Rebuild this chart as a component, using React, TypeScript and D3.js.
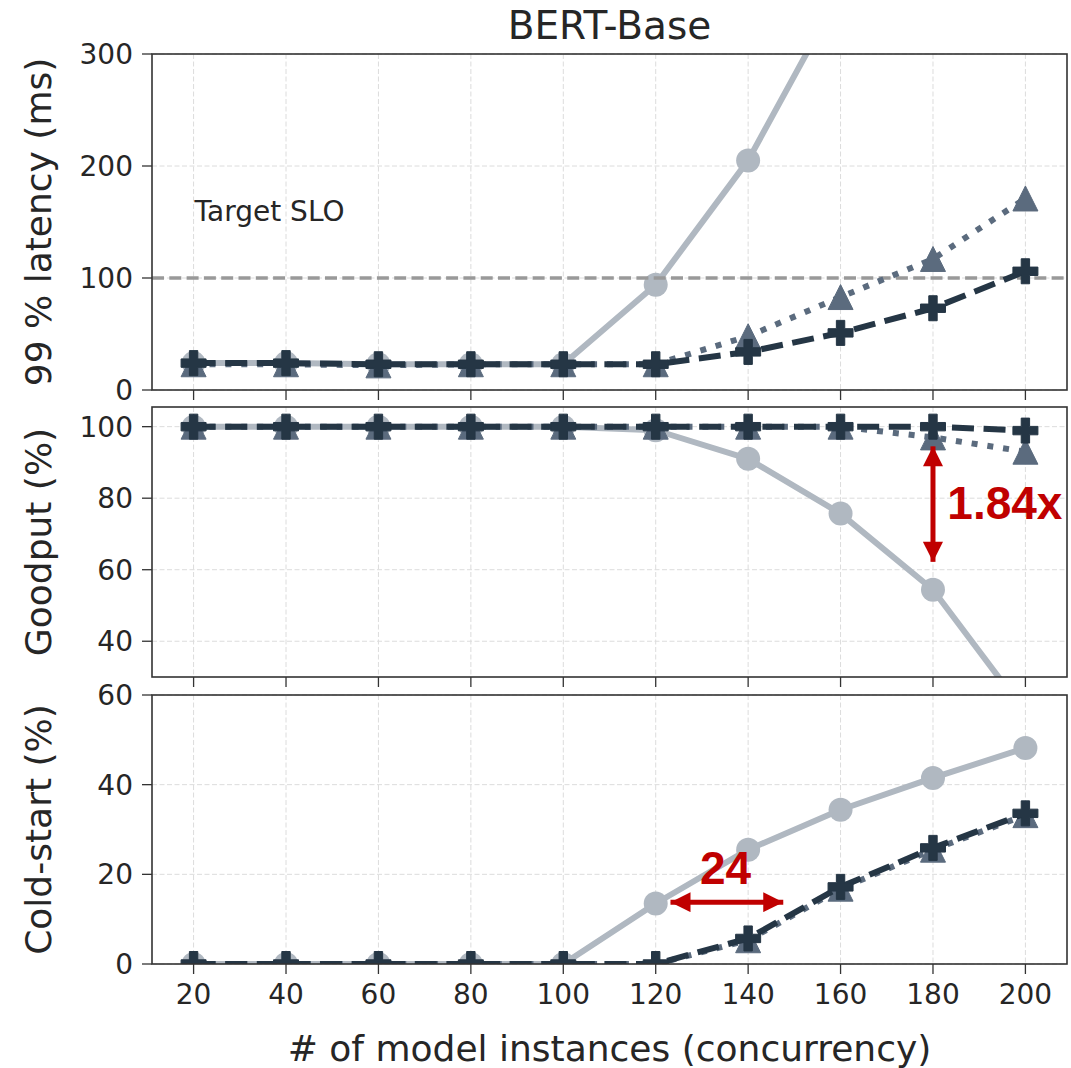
import * as d3 from "d3";

// x positions (number of model instances)
const instances = [20, 40, 60, 80, 100, 120, 140, 160, 180, 200];
const xTicks = [20, 40, 60, 80, 100, 120, 140, 160, 180, 200];

// 99% latency (ms)
const latencyCircle = [24, 24, 23, 23, 23, 94, 205, 356, 520, 700];
const latencyTriangle = [23, 23, 22, 23, 23, 23, 48, 83, 117, 171];
const latencyPlus = [24, 24, 23, 23, 23, 23, 34, 51, 73, 106];
const latencyTicks = [0, 100, 200, 300];
const sloTarget = 100;

// goodput (%)
const goodputCircle = [100, 100, 100, 100, 100, 99, 91, 75.7, 54.4, 20];
const goodputTriangle = [100, 100, 100, 100, 100, 100, 100, 100, 97, 93];
const goodputPlus = [100, 100, 100, 100, 100, 100, 100, 100, 100, 98.9];
const goodputTicks = [40, 60, 80, 100];

// cold-start (%)
const coldCircle = [0, 0, 0, 0, 0, 13.5, 25.5, 34.4, 41.5, 48.2];
const coldTriangle = [0, 0, 0, 0, 0, 0, 5.3, 16.8, 25.5, 33.2];
const coldPlus = [0, 0, 0, 0, 0, 0, 5.7, 17.2, 25.9, 33.6];
const coldTicks = [0, 20, 40, 60];

const FONT = "DejaVu Sans, sans-serif";
const RED = "#c00000";
const INK = "#262626";

const W = 1071;
const H = 1068;
const left = 152;
const right = 1067;

const x = d3.scaleLinear().domain([11, 209]).range([left, right]);

const panels = [
  {
    id: "lat",
    label: "99 % latency (ms)",
    y: d3.scaleLinear().domain([0, 300]).range([390, 54]),
    ticks: latencyTicks,
    data: [latencyCircle, latencyTriangle, latencyPlus],
  },
  {
    id: "good",
    label: "Goodput (%)",
    y: d3.scaleLinear().domain([30, 105.5]).range([677, 407]),
    ticks: goodputTicks,
    data: [goodputCircle, goodputTriangle, goodputPlus],
  },
  {
    id: "cold",
    label: "Cold-start (%)",
    y: d3.scaleLinear().domain([0, 60]).range([964, 695]),
    ticks: coldTicks,
    data: [coldCircle, coldTriangle, coldPlus],
  },
];

const styles = [
  { color: "#b0b8c1", dash: null, marker: "circle" },
  { color: "#5b6b7e", dash: "6,9.9", marker: "triangle" },
  { color: "#253645", dash: "22,9.6", marker: "plus" },
];

function markerPath(kind) {
  if (kind === "triangle") {
    const h = 12.5;
    return `M0,${-h}L${h},${h}L${-h},${h}Z`;
  }
  const a = 4.2;
  const b = 12.5;
  return `M${-a},${-b}H${a}V${-a}H${b}V${a}H${a}V${b}H${-a}V${a}H${-b}V${-a}H${-a}Z`;
}

function Panel({ p, last }) {
  const [y0, y1] = p.y.range();
  const line = d3
    .line()
    .x((_, i) => x(instances[i]))
    .y((d) => p.y(d));
  const series = p.data.map((vals, k) => (
    <g key={k}>
      <path
        d={line(vals)}
        fill="none"
        stroke={styles[k].color}
        strokeWidth={6}
        strokeDasharray={styles[k].dash || undefined}
        strokeLinejoin="round"
      />
      {vals.map((v, i) =>
        styles[k].marker === "circle" ? (
          <circle key={i} cx={x(instances[i])} cy={p.y(v)} r={12} fill={styles[k].color} />
        ) : (
          <path
            key={i}
            d={markerPath(styles[k].marker)}
            transform={`translate(${x(instances[i])},${p.y(v)})`}
            fill={styles[k].color}
            stroke={styles[k].color}
            strokeWidth={1}
          />
        )
      )}
    </g>
  ));

  return (
    <g>
      <defs>
        <clipPath id={`clip-${p.id}`}>
          <rect x={left} y={y1} width={right - left} height={y0 - y1} />
        </clipPath>
      </defs>
      {/* grid */}
      {xTicks.map((t) => (
        <line key={`gx${t}`} x1={x(t)} x2={x(t)} y1={y1} y2={y0} stroke="#dcdcdc" strokeWidth={1} strokeDasharray="5,2.5" />
      ))}
      {p.ticks.map((t) => (
        <line key={`gy${t}`} x1={left} x2={right} y1={p.y(t)} y2={p.y(t)} stroke="#dcdcdc" strokeWidth={1} strokeDasharray="5,2.5" />
      ))}
      <g clipPath={`url(#clip-${p.id})`}>
        {series[0]}
        {p.id === "lat" && (
          <line x1={left} x2={right} y1={p.y(sloTarget)} y2={p.y(sloTarget)} stroke="#999999" strokeWidth={3.3} strokeDasharray="12,5.3" />
        )}
        {series[1]}
        {series[2]}
      </g>
      {/* frame */}
      <rect x={left} y={y1} width={right - left} height={y0 - y1} fill="none" stroke="#333" strokeWidth={1.6} />
      {/* ticks */}
      {xTicks.map((t) => (
        <line key={`tx${t}`} x1={x(t)} x2={x(t)} y1={y0} y2={y0 + 10} stroke="#333" strokeWidth={1.3} />
      ))}
      {p.ticks.map((t) => (
        <g key={`ty${t}`}>
          <line x1={left - 10} x2={left} y1={p.y(t)} y2={p.y(t)} stroke="#333" strokeWidth={1.3} />
          <text x={left - 19} y={p.y(t)} dy="0.36em" textAnchor="end" fontSize={28} fill={INK}>
            {t}
          </text>
        </g>
      ))}
      {last &&
        xTicks.map((t) => (
          <text key={`lx${t}`} x={x(t)} y={1004} textAnchor="middle" fontSize={28} fill={INK}>
            {t}
          </text>
        ))}
      <text
        transform={`translate(51,${(y0 + y1) / 2}) rotate(-90)`}
        textAnchor="middle"
        fontSize={36}
        fill={INK}
      >
        {p.label}
      </text>
    </g>
  );
}

export default function App() {
  const [lat, good, cold] = panels;
  return (
    <svg
      width={W}
      height={H}
      style={{ position: "absolute", left: 0, top: 0, background: "#fff" }}
      fontFamily={FONT}
    >
      <defs>
        <marker id="head" viewBox="0 0 10 10" refX={10} refY={5} markerWidth={22} markerHeight={20} markerUnits="userSpaceOnUse" orient="auto-start-reverse">
          <path d="M0,0L10,5L0,10Z" fill={RED} />
        </marker>
      </defs>
      <rect width={W} height={H} fill="#fff" />
      <text x={(left + right) / 2} y={39} textAnchor="middle" fontSize={39} fill={INK}>
        BERT-Base
      </text>
      {panels.map((p, i) => (
        <Panel key={p.id} p={p} last={i === panels.length - 1} />
      ))}
      <text x={x(20) + 1} y={lat.y(151)} fontSize={28} fill={INK}>
        Target SLO
      </text>

      {/* goodput gap annotation */}
      <line
        x1={x(180)}
        x2={x(180)}
        y1={good.y(94.5)}
        y2={good.y(62.2)}
        stroke={RED}
        strokeWidth={5}
        markerStart="url(#head)"
        markerEnd="url(#head)"
      />
      <text x={x(183.1)} y={good.y(74.1)} fontSize={46} fontWeight="bold" fontFamily="Liberation Sans, Arial, sans-serif" fill={RED}>
        1.84x
      </text>

      {/* cold-start shift annotation */}
      <line
        x1={x(123.2)}
        x2={x(147.6)}
        y1={cold.y(13.8)}
        y2={cold.y(13.8)}
        stroke={RED}
        strokeWidth={5}
        markerStart="url(#head)"
        markerEnd="url(#head)"
      />
      <text x={x(135.1)} y={cold.y(17.8)} textAnchor="middle" fontSize={46} fontWeight="bold" fontFamily="Liberation Sans, Arial, sans-serif" fill={RED}>
        24
      </text>

      <text x={(left + right) / 2} y={1061} textAnchor="middle" fontSize={36} fill={INK}>
        # of model instances (concurrency)
      </text>
    </svg>
  );
}
